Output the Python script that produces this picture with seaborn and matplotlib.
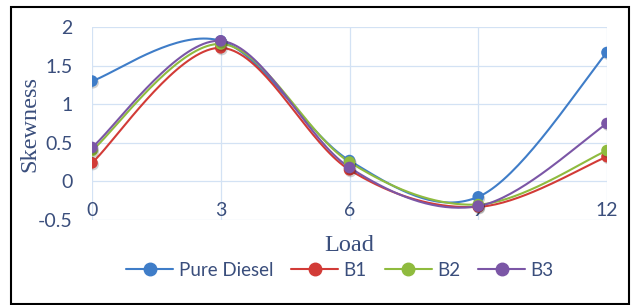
"""
Skewness vs load for pure diesel and blends B1-B3 (excel style smoothed lines)
"""

import numpy as np
import pandas as pd
import seaborn as sns
import matplotlib.pyplot as plt
import matplotlib.patheffects as pe
from matplotlib.lines import Line2D
from matplotlib.patches import Rectangle

loads = [0, 3, 6, 9, 12]
pure_diesel = [1.30, 1.82, 0.27, -0.20, 1.67]
b1 = [0.24, 1.73, 0.15, -0.33, 0.32]
b2 = [0.40, 1.78, 0.25, -0.30, 0.40]
b3 = [0.44, 1.82, 0.18, -0.32, 0.75]
series_names = ["Pure Diesel", "B1", "B2", "B3"]
y_ticks = [-0.5, 0, 0.5, 1, 1.5, 2]
y_tick_labels = ["-0.5", "0", "0.5", "1", "1.5", "2"]

colors = ["#3f7dc8", "#d23b37", "#8fbb3e", "#7b56a6"]
text_color = "#3a4e7c"
grid_color = "#d3e2f4"


def smooth(x, y, n=40):
    """bezier curve through the points, like excel's smoothed line"""
    x = np.asarray(x, float)
    y = np.asarray(y, float)
    px = np.r_[x[0], x, x[-1]]
    py = np.r_[y[0], y, y[-1]]
    t = np.linspace(0, 1, n)[:, None]
    xs, ys = [], []
    for i in range(1, len(px) - 2):
        p0 = np.array([px[i], py[i]])
        p3 = np.array([px[i + 1], py[i + 1]])
        c1 = p0 + (np.array([px[i + 1], py[i + 1]]) - np.array([px[i - 1], py[i - 1]])) / 6
        c2 = p3 - (np.array([px[i + 2], py[i + 2]]) - p0) / 6
        pts = ((1 - t) ** 3) * p0 + 3 * ((1 - t) ** 2) * t * c1 + 3 * (1 - t) * t ** 2 * c2 + t ** 3 * p3
        xs.append(pts[:, 0])
        ys.append(pts[:, 1])
    return np.concatenate(xs), np.concatenate(ys)


series = dict(zip(series_names, [pure_diesel, b1, b2, b3]))
points = pd.DataFrame(
    [(k, x, v) for k, vals in series.items() for x, v in zip(loads, vals)],
    columns=["blend", "load", "skew"],
)

sns.set_style("white")
plt.rcParams["font.family"] = ["Lato", "DejaVu Sans"]

fig = plt.figure(figsize=(6.31, 3.05), dpi=100)
ax = fig.add_axes([92 / 631, 1 - 220 / 305, 515 / 631, 193 / 305])
ax.set_axisbelow(True)

palette = dict(zip(series_names, colors))
shadow = [pe.SimplePatchShadow(offset=(0.8, -1.2), shadow_rgbFace="k", alpha=0.18), pe.Normal()]
for name in series_names:
    sx, sy = smooth(loads, series[name])
    curve = pd.DataFrame({"load": sx, "skew": sy})
    sns.lineplot(data=curve, x="load", y="skew", color=palette[name], sort=False,
                 estimator=None, linewidth=1.5, ax=ax, zorder=2)
    sub = points[points["blend"] == name]
    sns.scatterplot(data=sub, x="load", y="skew", color=palette[name], s=70,
                    edgecolor=palette[name], linewidth=0, ax=ax, zorder=3)
    ax.collections[-1].set_path_effects(shadow)

ax.set_xlim(0, 12)
ax.set_ylim(-0.5, 2)
ax.set_xticks(loads)
ax.set_xticklabels([str(v) for v in loads])
ax.set_yticks(y_ticks)
ax.set_yticklabels(y_tick_labels)
ax.grid(True, color=grid_color, linewidth=0.9)
for s in ax.spines.values():
    s.set_visible(False)
ax.tick_params(axis="x", length=0, pad=-13, labelsize=14, labelcolor=text_color)
ax.tick_params(axis="y", length=0, pad=14, labelsize=14, labelcolor=text_color)

ax.set_xlabel("Load", family="Liberation Serif", fontsize=17.5, color=text_color, va="center")
ax.xaxis.set_label_coords(0.5, -0.13)
ax.set_ylabel("Skewness", family="Liberation Serif", fontsize=17.5, color=text_color, va="center")
ax.yaxis.set_label_coords(-0.12, 0.5)

handles = [Line2D([], [], color=c, marker="o", markersize=9, linewidth=1.5) for c in colors]
fig.legend(handles, series_names, loc="center", bbox_to_anchor=(340 / 631, 1 - 270 / 305),
           ncol=4, frameon=False, fontsize=13.5, handlelength=2.5, handletextpad=0.3,
           columnspacing=0.95, labelcolor=text_color)

fig.patches.append(Rectangle((11 / 631, 1 / 305), 618 / 631, 297 / 305, transform=fig.transFigure,
                             fill=False, edgecolor="black", linewidth=1.5))

plt.savefig("out.png", dpi=100)
